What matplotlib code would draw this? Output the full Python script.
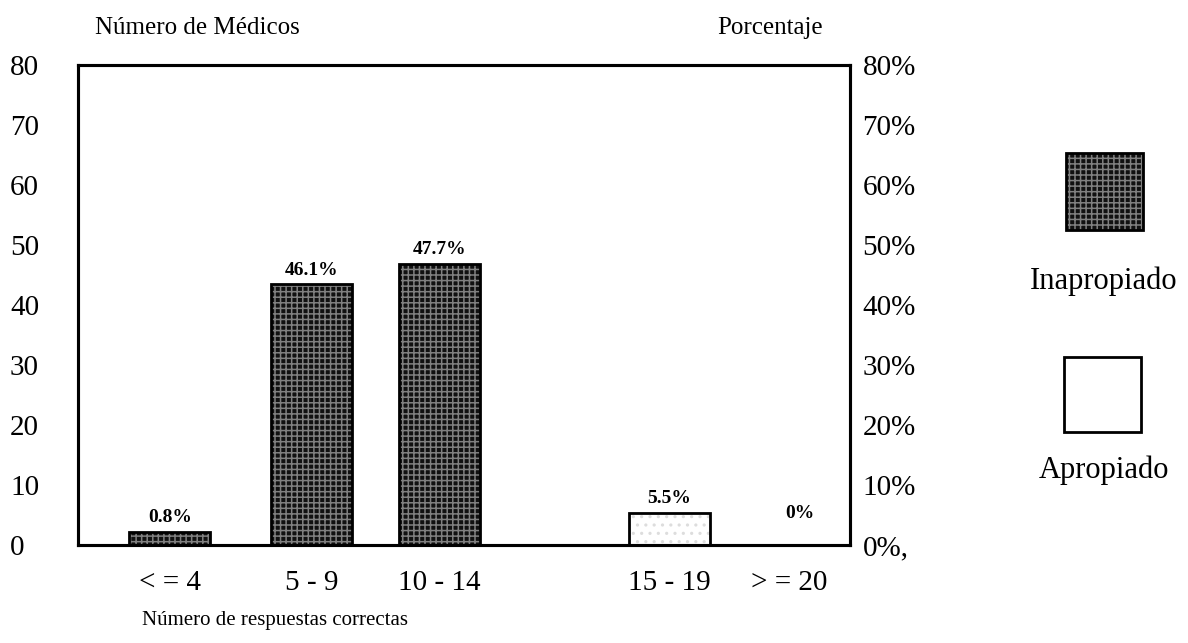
import matplotlib
matplotlib.use("Agg")
import matplotlib.pyplot as plt
from matplotlib.patches import Rectangle

plt.rcParams['font.family'] = ['Liberation Serif', 'DejaVu Serif']
plt.rcParams['hatch.linewidth'] = 1.1

# Data
categories = ["< = 4", "5 - 9", "10 - 14", "15 - 19", "> = 20"]
medicos = [2.2, 43.5, 46.9, 5.4, 0.0]
pct_labels = ["0.8%", "46.1%", "47.7%", "5.5%", "0%"]
group = ["Inapropiado", "Inapropiado", "Inapropiado", "Apropiado", "Apropiado"]
left_ticks = [0, 10, 20, 30, 40, 50, 60, 70, 80]
right_ticklabels = ["0%,", "10%", "20%", "30%", "40%", "50%", "60%", "70%", "80%"]

# Layout
positions = [0.0, 1.05, 2.0, 3.7, 4.59]
width = 0.6

fig = plt.figure(figsize=(11.88, 6.43), dpi=100)
ax = fig.add_axes([0.0657, 0.1524, 0.6498, 0.7466])
ax.set_xlim(-0.68, 5.04)
ax.set_ylim(0, 80)

DARK = "#111111"
HATCH = "#808080"

for x, v, g in zip(positions, medicos, group):
    if v <= 0:
        continue
    if g == "Inapropiado":
        ax.bar(x, v, width, color=DARK, edgecolor=HATCH, hatch="+++", linewidth=0, zorder=2)
        ax.bar(x, v, width, color="none", edgecolor="black", linewidth=2, zorder=3)
    else:
        ax.bar(x, v, width, color="white", edgecolor="#dddddd", hatch="..", linewidth=0, zorder=2)
        ax.bar(x, v, width, color="none", edgecolor="black", linewidth=2, zorder=3)

for x, v, lab in zip(positions, medicos, pct_labels):
    y = v + 0.9 if v > 0 else 3.8
    dx = 0.08 if v == 0 else 0.0
    ax.text(x + dx, y, lab, ha="center", va="bottom", fontsize=14, fontweight="bold", zorder=4)

ax.set_yticks(left_ticks)
ax.set_yticklabels([str(t) for t in left_ticks], fontsize=21)
ax.set_xticks(positions)
ax.set_xticklabels(categories, fontsize=21)
ax.tick_params(axis="x", length=0, pad=18)
ax.tick_params(axis="y", length=0, pad=49)
for lab in ax.get_yticklabels():
    lab.set_horizontalalignment("left")
for s in ax.spines.values():
    s.set_linewidth(2.2)

ax2 = ax.twinx()
ax2.set_ylim(0, 80)
ax2.set_yticks(left_ticks)
ax2.set_yticklabels(right_ticklabels, fontsize=21)
ax2.tick_params(axis="y", length=0, pad=9)
for s in ax2.spines.values():
    s.set_linewidth(2.2)

fig.text(0.080, 0.957, "Número de Médicos", fontsize=18, ha="left", va="center")
fig.text(0.693, 0.957, "Porcentaje", fontsize=18, ha="right", va="center")
fig.text(275 / 1188, 0.035, "Número de respuestas correctas", fontsize=15, ha="center", va="center")

# Legend
fw, fh = 1188.0, 643.0
def rect_px(x0, y0, x1, y1, **kw):
    return Rectangle((x0 / fw, 1 - y1 / fh), (x1 - x0) / fw, (y1 - y0) / fh,
                     transform=fig.transFigure, **kw)

fig.add_artist(rect_px(1066, 153, 1143, 230, facecolor=DARK, edgecolor=HATCH,
                       hatch="+++", linewidth=0))
fig.add_artist(rect_px(1066, 153, 1143, 230, facecolor="none", edgecolor="black", linewidth=2))
fig.add_artist(rect_px(1064, 357, 1141, 432, facecolor="white", edgecolor="black", linewidth=2))
fig.text(1104 / fw, 1 - 281 / fh, "Inapropiado", fontsize=22, ha="center", va="center")
fig.text(1104 / fw, 1 - 470 / fh, "Apropiado", fontsize=22, ha="center", va="center")

fig.savefig("out.png", dpi=100)
